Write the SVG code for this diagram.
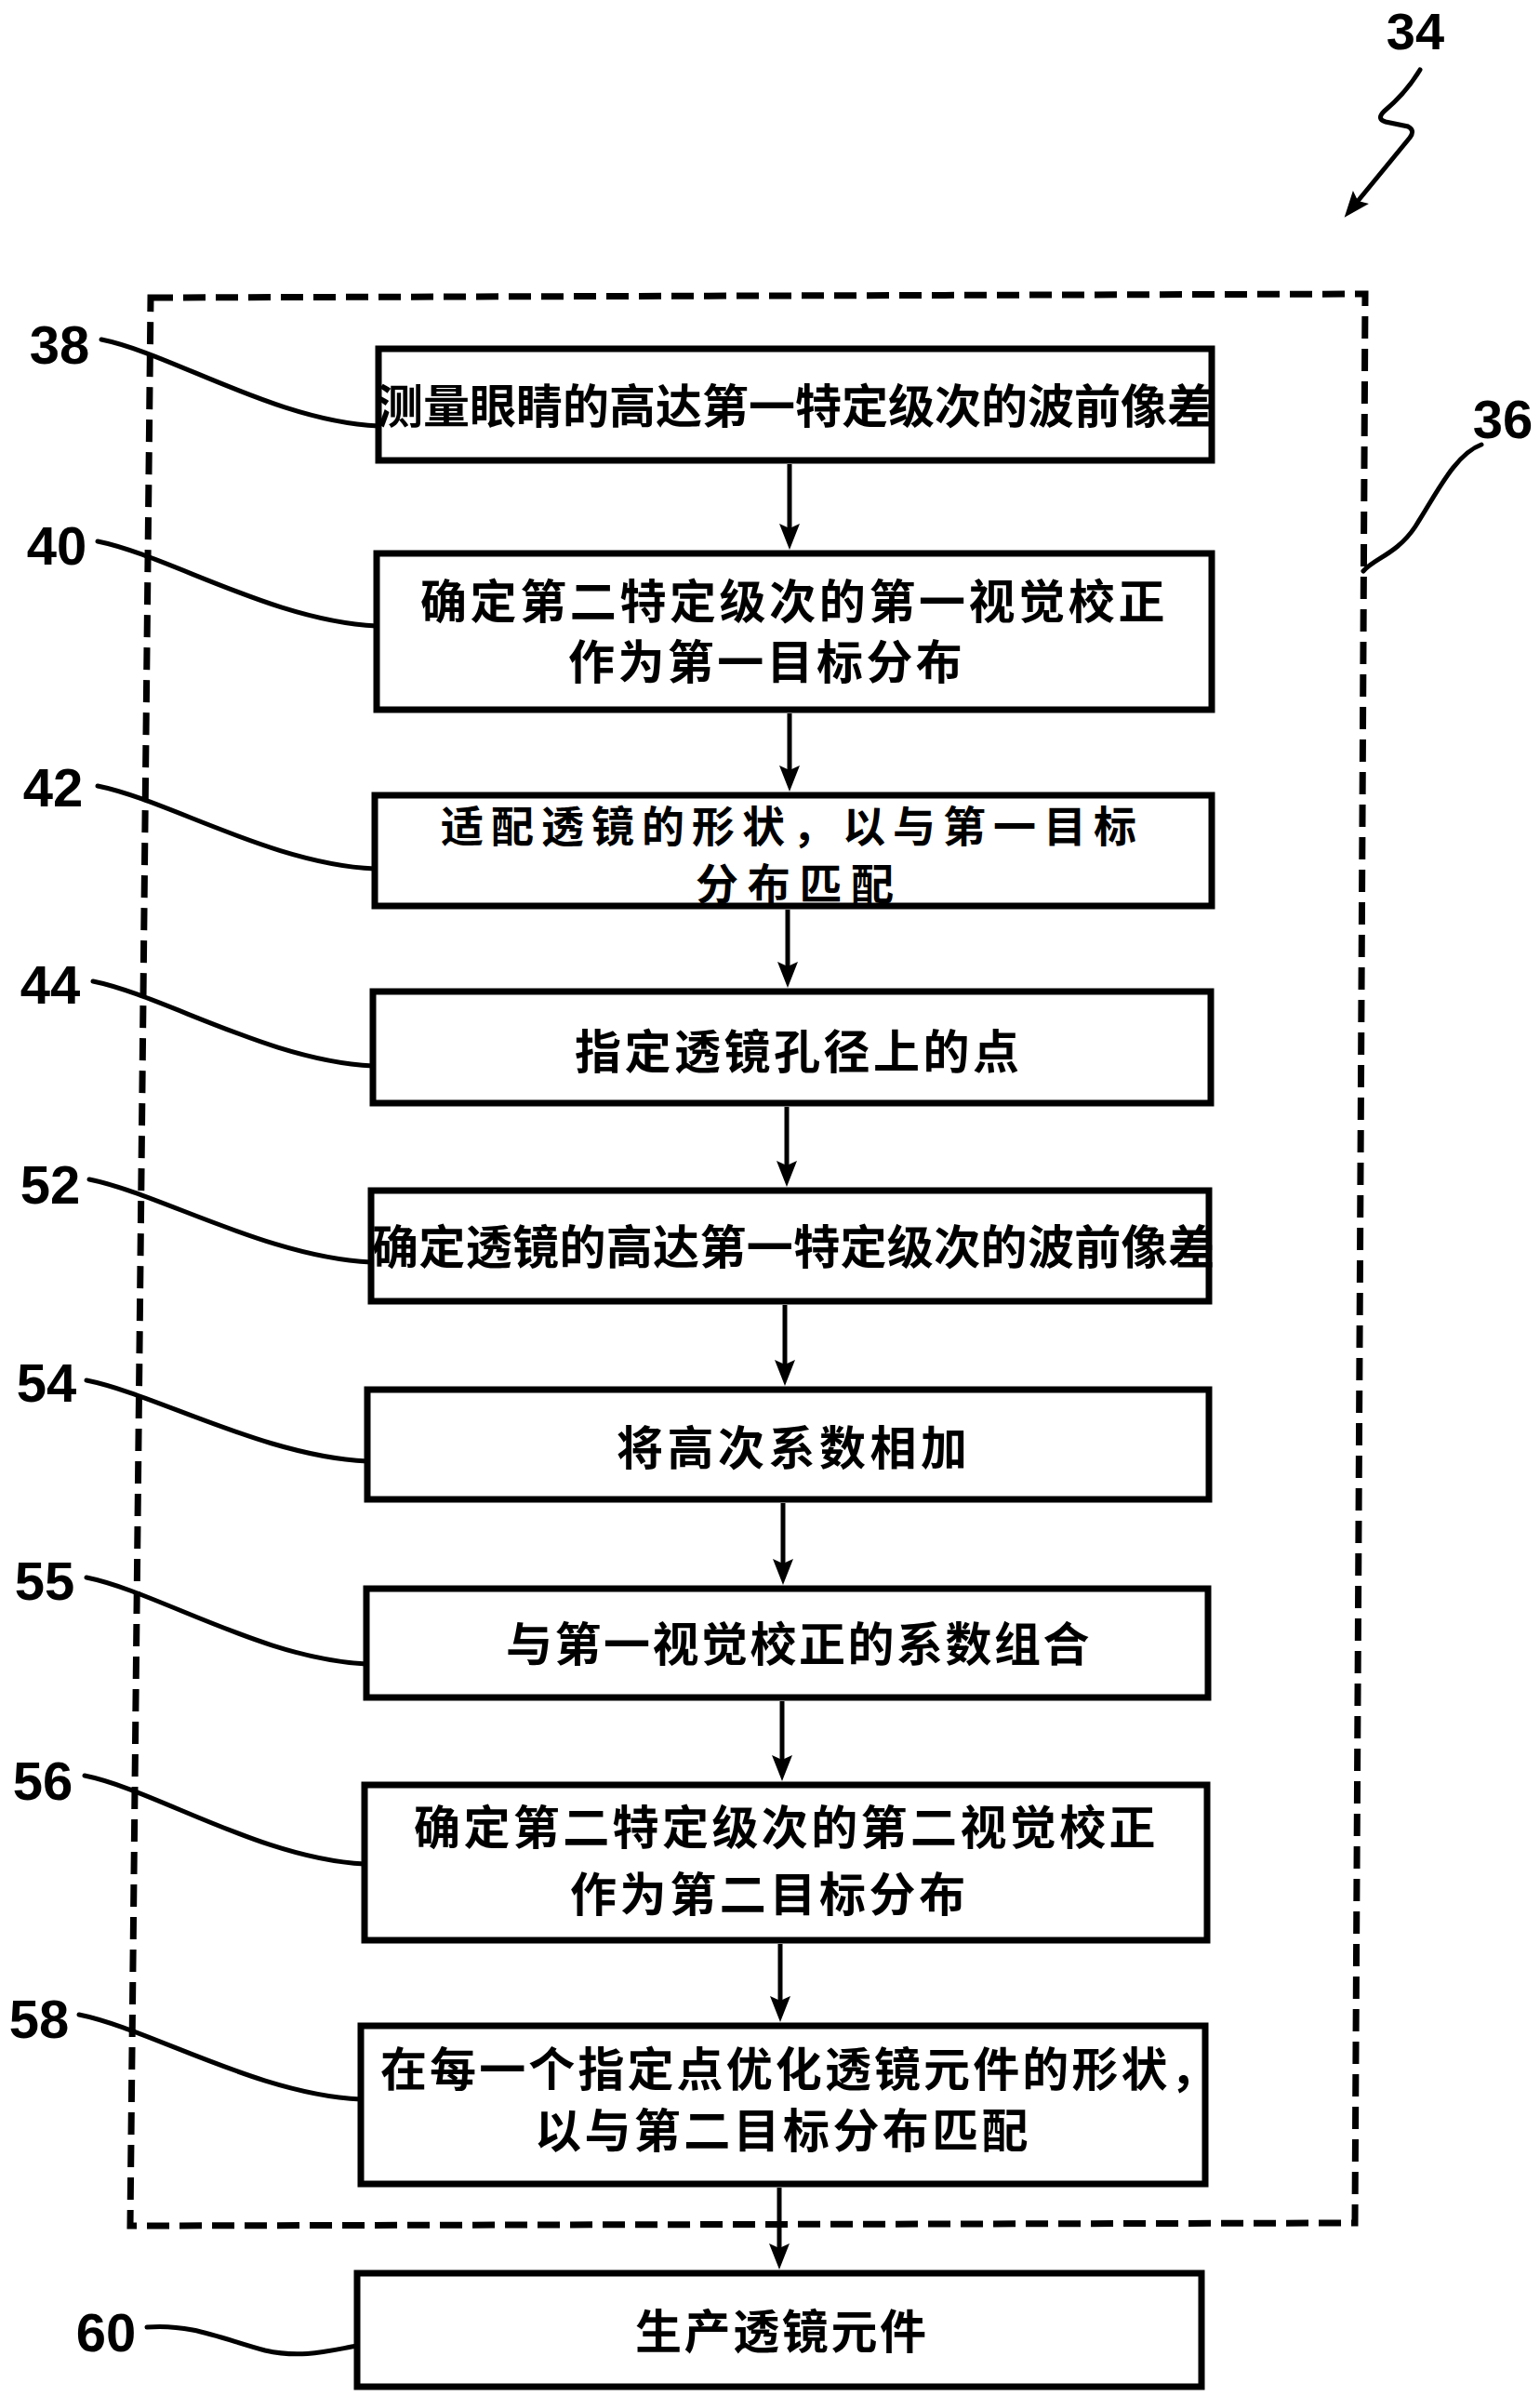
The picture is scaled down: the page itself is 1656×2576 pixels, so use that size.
<svg xmlns="http://www.w3.org/2000/svg" width="1656" height="2576" viewBox="0 0 1656 2576">
<style>
.box{fill:#fff;stroke:#000;stroke-width:7}
.t{font-family:"Noto Sans CJK SC","Noto Sans CJK TC",sans-serif;font-size:50px;font-weight:700;fill:#000}
.t46{font-size:46px}
.num{font-family:"Liberation Sans",Arial,sans-serif;font-size:58px;font-weight:700;text-anchor:middle;fill:#000}
.lead{fill:none;stroke:#000;stroke-width:5;stroke-linecap:round}
.arrow{fill:none;stroke:#000;stroke-width:5;marker-end:url(#ah)}
.dash{fill:none;stroke:#000;stroke-width:7;stroke-dasharray:24 11;stroke-linecap:butt}
</style>
<defs>
<marker id="ah" markerUnits="userSpaceOnUse" markerWidth="30" markerHeight="24" refX="18" refY="11" orient="auto" overflow="visible">
<path d="M0,0 L28,11 L0,22 L5,11 Z" fill="#000"/>
</marker>
</defs>
<rect width="1656" height="2576" fill="#fff"/>

<g id="group-36">
<path class="dash" d="M162,320 L1468,316 L1457,2390 L140,2393 Z"/>
</g>

<g id="label-34">
<text class="num" x="1522" y="53" style="font-size:56px">34</text>
<path class="lead" style="marker-end:url(#ah)" d="M1527,75 C1515,95 1500,110 1488,120 Q1480,128 1490,131 L1514,136 Q1522,140 1516,148 L1452,226"/>
</g>

<g id="connectors">
<path class="lead" d="M1593,478 C1565,488 1545,530 1522,566 C1502,596 1478,600 1466,614"/>
<path class="lead" d="M109,365 C184,380 297,453 407,458"/>
<path class="lead" d="M105,582 C180,597 295,668 405,673"/>
<path class="lead" d="M105,845 C180,860 293,929 403,934"/>
<path class="lead" d="M100,1055 C175,1070 291,1141 401,1146"/>
<path class="lead" d="M96,1268 C171,1283 289,1352 399,1357"/>
<path class="lead" d="M93,1484 C168,1499 285,1566 395,1571"/>
<path class="lead" d="M93,1696 C168,1711 284,1784 394,1789"/>
<path class="lead" d="M91,1909 C166,1924 282,1999 392,2004"/>
<path class="lead" d="M85,2166 C160,2181 278,2252 388,2257"/>
<path class="lead" d="M158,2502 C205,2498 240,2515 285,2527 C325,2536 355,2527 384,2522"/>
<line class="arrow" x1="849" y1="499" x2="849" y2="581"/>
<line class="arrow" x1="849" y1="767" x2="849" y2="841"/>
<line class="arrow" x1="847" y1="978" x2="847" y2="1052"/>
<line class="arrow" x1="846" y1="1190" x2="846" y2="1266"/>
<line class="arrow" x1="844" y1="1403" x2="844" y2="1480"/>
<line class="arrow" x1="842" y1="1616" x2="842" y2="1694"/>
<line class="arrow" x1="841" y1="1829" x2="841" y2="1905"/>
<line class="arrow" x1="839" y1="2090" x2="839" y2="2164"/>
<line class="arrow" x1="838" y1="2352" x2="838" y2="2430"/>
</g>

<g id="labels">
<text class="num" x="1616" y="471">36</text>
<text class="num" x="64" y="391">38</text>
<text class="num" x="61" y="607">40</text>
<text class="num" x="57" y="867">42</text>
<text class="num" x="54" y="1079">44</text>
<text class="num" x="54" y="1294">52</text>
<text class="num" x="50" y="1507">54</text>
<text class="num" x="48" y="1720">55</text>
<text class="num" x="46" y="1935">56</text>
<text class="num" x="42" y="2191">58</text>
<text class="num" x="114" y="2528">60</text>
</g>

<g id="node-38">
<rect class="box" x="407" y="375" width="896" height="120"/>
<text class="t" x="405" y="455" letter-spacing="0">测量眼睛的高达第一特定级次的波前像差</text>
</g>
<g id="node-40">
<rect class="box" x="405" y="595" width="898" height="168"/>
<text class="t" x="452" y="665" letter-spacing="3.6">确定第二特定级次的第一视觉校正</text>
<text class="t" x="611" y="730" letter-spacing="3.4">作为第一目标分布</text>
</g>
<g id="node-42">
<rect class="box" x="403" y="855" width="900" height="119"/>
<text class="t t46" x="474" y="905" letter-spacing="8">适配透镜的形状，以与第一目标</text>
<text class="t t46" x="748" y="967" letter-spacing="9.7">分布匹配</text>
</g>
<g id="node-44">
<rect class="box" x="401" y="1066" width="901" height="120"/>
<text class="t" x="618" y="1149" letter-spacing="3.5">指定透镜孔径上的点</text>
</g>
<g id="node-52">
<rect class="box" x="399" y="1280" width="901" height="119"/>
<text class="t" x="400" y="1359" letter-spacing="0.35">确定透镜的高达第一特定级次的波前像差</text>
</g>
<g id="node-54">
<rect class="box" x="395" y="1494" width="905" height="118"/>
<text class="t" x="663" y="1575" letter-spacing="4.5">将高次系数相加</text>
</g>
<g id="node-55">
<rect class="box" x="394" y="1708" width="905" height="117"/>
<text class="t" x="544" y="1786" letter-spacing="2.5">与第一视觉校正的系数组合</text>
</g>
<g id="node-56">
<rect class="box" x="392" y="1919" width="906" height="167"/>
<text class="t" x="445" y="1983" letter-spacing="3.4">确定第二特定级次的第二视觉校正</text>
<text class="t" x="613" y="2055" letter-spacing="3.6">作为第二目标分布</text>
</g>
<g id="node-58">
<rect class="box" x="388" y="2178" width="908" height="170"/>
<text class="t" x="409" y="2243" letter-spacing="3.1">在每一个指定点优化透镜元件的形状，</text>
<text class="t" x="575" y="2309" letter-spacing="3.4">以与第二目标分布匹配</text>
</g>
<g id="node-60">
<rect class="box" x="384" y="2444" width="908" height="122"/>
<text class="t" x="683" y="2525" letter-spacing="2.6">生产透镜元件</text>
</g>
</svg>
